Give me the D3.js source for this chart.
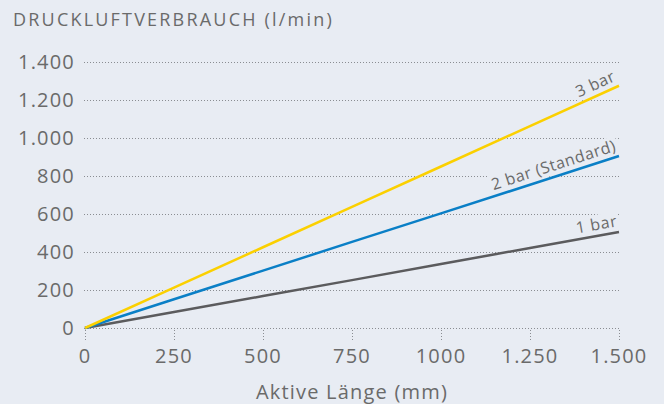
<!DOCTYPE html>
<html>
<head>
<meta charset="utf-8">
<script src="https://cdn.jsdelivr.net/npm/d3@7"></script>
<style>
  html, body { margin: 0; padding: 0; background: #e8ecf3; }
  svg { display: block; font-family: "Open Sans", sans-serif; font-weight: 400; }
  .grid line { stroke: #8a8d92; stroke-width: 1; stroke-dasharray: 1 2; }
  .tick-label { fill: #6a6a6a; font-size: 20px; letter-spacing: 1.2px; }
  .series-label { fill: #6a6a6a; font-size: 16px; letter-spacing: 0.6px; }
</style>
</head>
<body>
<div id="chart"></div>
<script>
// DATA
const lengths = [0, 250, 500, 750, 1000, 1250, 1500];
const bar1 = [0, 84, 168, 252, 337, 421, 505];
const bar2 = [0, 151, 302, 453, 603, 754, 905];
const bar3 = [0, 213, 425, 638, 850, 1063, 1275];
const seriesNames = ["1 bar", "2 bar (Standard)", "3 bar"];
const yTicks = [0, 200, 400, 600, 800, 1000, 1200, 1400];
const xTickLabels = ["0", "250", "500", "750", "1000", "1.250", "1.500"];
const yTickLabels = ["0", "200", "400", "600", "800", "1.000", "1.200", "1.400"];

const width = 664, height = 404;
const margin = { left: 85, right: 45, top: 62, bottom: 76 };
const bg = "#e8ecf3";

const svg = d3.select("#chart").append("svg")
    .attr("width", width)
    .attr("height", height);

const x = d3.scaleLinear().domain([0, 1500]).range([margin.left, width - margin.right]);
const y = d3.scaleLinear().domain([0, 1400]).range([height - margin.bottom, margin.top]);

// title
svg.append("text")
    .attr("x", 13).attr("y", 26)
    .attr("fill", "#6a6a6a")
    .style("font-size", "18px")
    .style("letter-spacing", "2.2px")
    .text("DRUCKLUFTVERBRAUCH (l/min)");

// horizontal dotted grid
const grid = svg.append("g").attr("class", "grid");
grid.selectAll("line.h").data(yTicks).join("line")
    .attr("class", "h")
    .attr("x1", x(0) - 1).attr("x2", x(1500))
    .attr("y1", d => y(d) + 0.5).attr("y2", d => y(d) + 0.5);

// small dotted ticks below the axis
grid.selectAll("line.v").data(lengths).join("line")
    .attr("class", "v")
    .attr("x1", d => x(d) + 0.5).attr("x2", d => x(d) + 0.5)
    .attr("y1", y(0) + 2).attr("y2", y(0) + 14);

// y tick labels
svg.append("g").selectAll("text").data(yTicks).join("text")
    .attr("class", "tick-label")
    .attr("x", x(0) - 10)
    .attr("y", d => y(d))
    .attr("dy", "0.35em")
    .attr("text-anchor", "end")
    .text((d, i) => yTickLabels[i]);

// x tick labels
svg.append("g").selectAll("text").data(lengths).join("text")
    .attr("class", "tick-label")
    .attr("x", d => x(d))
    .attr("y", y(0) + 35)
    .attr("text-anchor", "middle")
    .text((d, i) => xTickLabels[i]);

// x axis title
svg.append("text")
    .attr("class", "tick-label")
    .attr("x", (x(0) + x(1500)) / 2)
    .attr("y", height - 5)
    .attr("text-anchor", "middle")
    .text("Aktive Länge (mm)");

// lines
const series = [
    { name: seriesNames[0], values: bar1, color: "#5b5b5d" },
    { name: seriesNames[1], values: bar2, color: "#0a7fc6" },
    { name: seriesNames[2], values: bar3, color: "#fbd000" }
];

const line = d3.line()
    .x((d, i) => x(lengths[i]))
    .y(d => y(d));

// labels first, on a background box so the gridlines are hidden behind them
series.forEach(s => {
    const n = s.values.length - 1;
    const x0 = x(lengths[0]), y0 = y(s.values[0]);
    const x1 = x(lengths[n]), y1 = y(s.values[n]);
    const angle = Math.atan2(y1 - y0, x1 - x0) * 180 / Math.PI;
    const lg = svg.append("g")
        .attr("transform", `translate(${x1},${y1}) rotate(${angle})`);
    const box = lg.append("rect").attr("fill", bg);
    const t = lg.append("text")
        .attr("class", "series-label")
        .attr("x", 0)
        .attr("y", -6)
        .attr("text-anchor", "end")
        .text(s.name);
    const bb = t.node().getBBox();
    box.attr("x", bb.x - 2).attr("y", bb.y + 2)
        .attr("width", bb.width + 4).attr("height", bb.height - 3);
});

svg.append("g").selectAll("path").data(series).join("path")
    .attr("fill", "none")
    .attr("stroke", d => d.color)
    .attr("stroke-width", 2.5)
    .attr("d", d => line(d.values));
</script>
</body>
</html>
